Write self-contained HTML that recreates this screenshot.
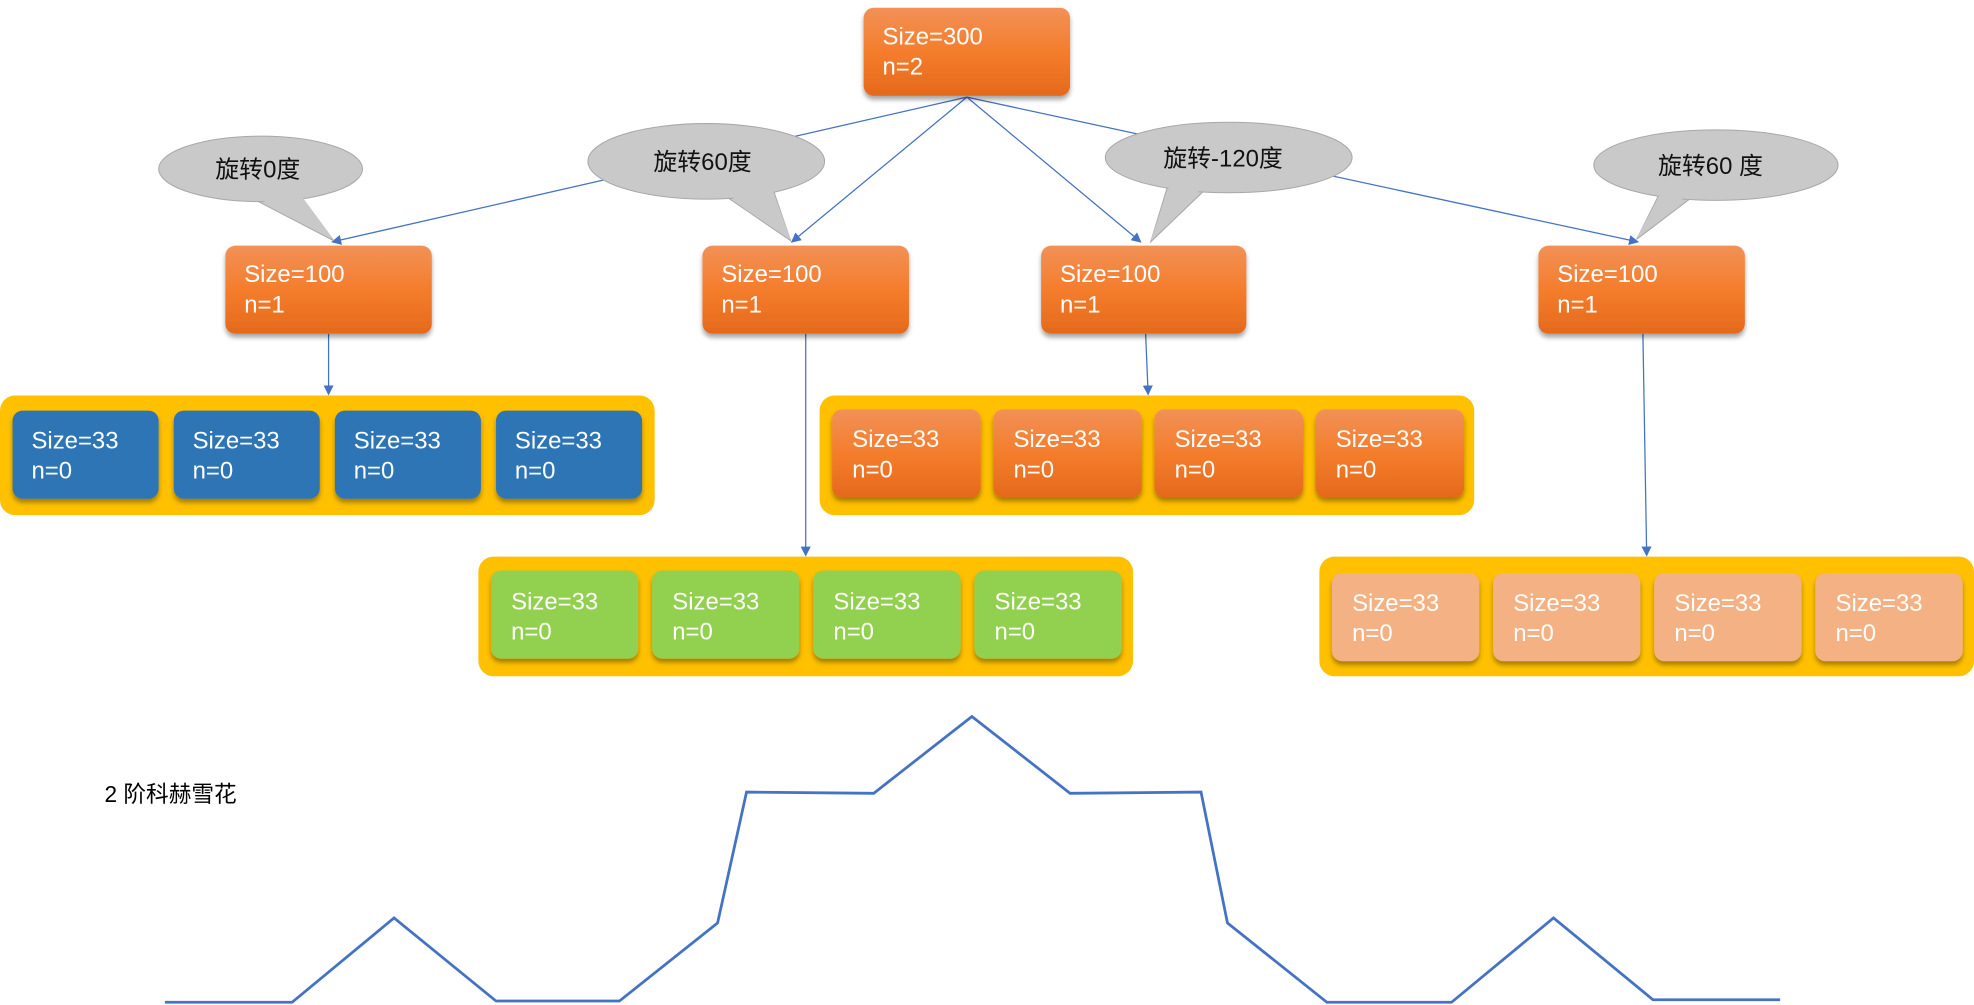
<!DOCTYPE html>
<html><head><meta charset="utf-8"><style>
html,body{margin:0;padding:0;background:#fff;}
svg{display:block}
text{font-family:"Liberation Sans","Noto Sans CJK SC",sans-serif;}
</style></head><body>
<svg width="1974" height="1005" viewBox="0 0 1568 798" xmlns="http://www.w3.org/2000/svg">
<defs>
<linearGradient id="or" x1="0" y1="0" x2="0" y2="1"><stop offset="0" stop-color="#f29157"/><stop offset="0.5" stop-color="#f47d2c"/><stop offset="1" stop-color="#e5691c"/></linearGradient>
<filter id="sh" x="-20%" y="-20%" width="140%" height="150%"><feDropShadow dx="0" dy="3" stdDeviation="2" flood-color="#000" flood-opacity="0.35"/></filter>
<marker id="ar" markerWidth="8" markerHeight="8" refX="7" refY="4" orient="auto" markerUnits="userSpaceOnUse"><path d="M0,0 L8,4 L0,8 z" fill="#4472c4"/></marker>
</defs>
<g stroke="#4472c4" stroke-width="1" fill="none">
<line x1="768" y1="77" x2="264" y2="192" marker-end="url(#ar)"/>
<line x1="768" y1="77" x2="629" y2="192" marker-end="url(#ar)"/>
<line x1="768" y1="77" x2="906" y2="192" marker-end="url(#ar)"/>
<line x1="768" y1="77" x2="1301" y2="192" marker-end="url(#ar)"/>
<line x1="261" y1="265" x2="261" y2="313" marker-end="url(#ar)"/>
<line x1="640" y1="265" x2="640" y2="441" marker-end="url(#ar)"/>
<line x1="910" y1="265" x2="912" y2="313" marker-end="url(#ar)"/>
<line x1="1305" y1="265" x2="1308" y2="441" marker-end="url(#ar)"/>
</g>
<g fill="#c9c9c9" stroke="#a8a8a8" stroke-width="0.8">
<path d="M186,150 L265,191 L232,150 Z"/><ellipse cx="207" cy="134" rx="81" ry="26"/><path d="M188,148 L265,190 L234,148 Z" stroke="none"/>
<path d="M565,148 L628,191 L614,150 Z"/><ellipse cx="561" cy="128" rx="94" ry="30"/><path d="M567,146 L628,190 L612,146 Z" stroke="none"/>
<path d="M928,146 L914,192 L962,146 Z"/><ellipse cx="976" cy="125" rx="98" ry="28"/><path d="M930,144 L914,191 L960,144 Z" stroke="none"/>
<path d="M1320,150 L1300,190 L1350,152 Z"/><ellipse cx="1363" cy="131" rx="97" ry="28"/><path d="M1322,148 L1300,189 L1348,148 Z" stroke="none"/>
</g>
<g font-size="19" fill="#111">
<text x="171" y="141">旋转0度</text>
<text x="519" y="135">旋转60度</text>
<text x="924" y="132">旋转-120度</text>
<text x="1317" y="138">旋转60 度</text>
</g>
<g filter="url(#sh)">
<rect x="686" y="6" width="164" height="70" rx="8" fill="url(#or)"/>
<rect x="179" y="195" width="164" height="70" rx="8" fill="url(#or)"/>
<rect x="558" y="195" width="164" height="70" rx="8" fill="url(#or)"/>
<rect x="827" y="195" width="163" height="70" rx="8" fill="url(#or)"/>
<rect x="1222" y="195" width="164" height="70" rx="8" fill="url(#or)"/>
</g>
<g fill="#ffc000">
<rect x="0" y="314" width="520" height="95" rx="12"/>
<rect x="651" y="314" width="520" height="95" rx="12"/>
<rect x="380" y="442" width="520" height="95" rx="12"/>
<rect x="1048" y="442" width="520" height="95" rx="12"/>
</g>
<g filter="url(#sh)">
<rect x="10" y="326" width="116" height="70" rx="8" fill="#2e75b6"/>
<rect x="138" y="326" width="116" height="70" rx="8" fill="#2e75b6"/>
<rect x="266" y="326" width="116" height="70" rx="8" fill="#2e75b6"/>
<rect x="394" y="326" width="116" height="70" rx="8" fill="#2e75b6"/>
<rect x="661" y="325" width="118" height="70" rx="8" fill="url(#or)"/>
<rect x="789" y="325" width="118" height="70" rx="8" fill="url(#or)"/>
<rect x="917" y="325" width="118" height="70" rx="8" fill="url(#or)"/>
<rect x="1045" y="325" width="118" height="70" rx="8" fill="url(#or)"/>
<rect x="390" y="453" width="117" height="70" rx="8" fill="#92d050"/>
<rect x="518" y="453" width="117" height="70" rx="8" fill="#92d050"/>
<rect x="646" y="453" width="117" height="70" rx="8" fill="#92d050"/>
<rect x="774" y="453" width="117" height="70" rx="8" fill="#92d050"/>
<rect x="1058" y="455" width="117" height="70" rx="8" fill="#f4b183"/>
<rect x="1186" y="455" width="117" height="70" rx="8" fill="#f4b183"/>
<rect x="1314" y="455" width="117" height="70" rx="8" fill="#f4b183"/>
<rect x="1442" y="455" width="117" height="70" rx="8" fill="#f4b183"/>
</g>
<g font-size="19" fill="#fff">
<text x="701" y="35">Size=300</text><text x="701" y="59">n=2</text>
<text x="194" y="224">Size=100</text><text x="194" y="248">n=1</text>
<text x="573" y="224">Size=100</text><text x="573" y="248">n=1</text>
<text x="842" y="224">Size=100</text><text x="842" y="248">n=1</text>
<text x="1237" y="224">Size=100</text><text x="1237" y="248">n=1</text>
<text x="25" y="356">Size=33</text><text x="25" y="380">n=0</text>
<text x="153" y="356">Size=33</text><text x="153" y="380">n=0</text>
<text x="281" y="356">Size=33</text><text x="281" y="380">n=0</text>
<text x="409" y="356">Size=33</text><text x="409" y="380">n=0</text>
<text x="677" y="355">Size=33</text><text x="677" y="379">n=0</text>
<text x="805" y="355">Size=33</text><text x="805" y="379">n=0</text>
<text x="933" y="355">Size=33</text><text x="933" y="379">n=0</text>
<text x="1061" y="355">Size=33</text><text x="1061" y="379">n=0</text>
<text x="406" y="484">Size=33</text><text x="406" y="508">n=0</text>
<text x="534" y="484">Size=33</text><text x="534" y="508">n=0</text>
<text x="662" y="484">Size=33</text><text x="662" y="508">n=0</text>
<text x="790" y="484">Size=33</text><text x="790" y="508">n=0</text>
<text x="1074" y="485">Size=33</text><text x="1074" y="509">n=0</text>
<text x="1202" y="485">Size=33</text><text x="1202" y="509">n=0</text>
<text x="1330" y="485">Size=33</text><text x="1330" y="509">n=0</text>
<text x="1458" y="485">Size=33</text><text x="1458" y="509">n=0</text>
</g>
<text x="83" y="637" font-size="18" fill="#000">2 阶科赫雪花</text>
<polyline fill="none" stroke="#4472c4" stroke-width="2.2" points="131,796 232,796 313,729 394,795 492,795 570,733 593,629 694,630 772,569 850,630 954,629 975,733 1054,796 1153,796 1234,729 1313,794 1414,794"/>
</svg>
</body></html>
